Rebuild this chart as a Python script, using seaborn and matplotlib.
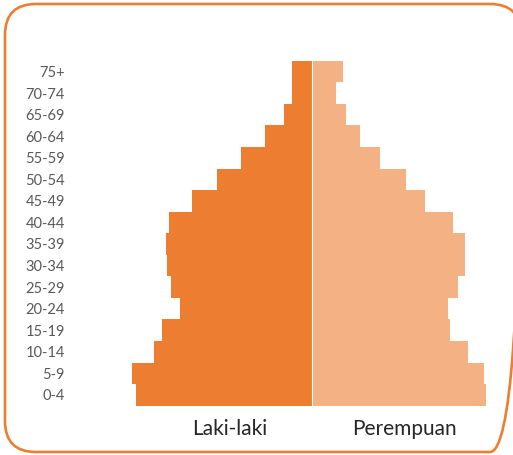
import matplotlib
matplotlib.use("Agg")
import matplotlib.pyplot as plt
from matplotlib.patches import FancyBboxPatch
import pandas as pd
import seaborn as sns

# data (arbitrary units)
kelompok_umur = ['0-4', '5-9', '10-14', '15-19', '20-24', '25-29', '30-34', '35-39',
                 '40-44', '45-49', '50-54', '55-59', '60-64', '65-69', '70-74', '75+']
laki_laki = [176, 180, 158, 150, 132, 141, 145, 146, 143, 120, 95, 71, 47, 28, 20, 20]
perempuan = [174, 172, 156, 138, 136, 146, 153, 153, 141, 113, 94, 68, 48, 34, 24, 31]

warna_laki = '#ED7D31'
warna_perempuan = '#F4B183'

df = pd.DataFrame({'umur': kelompok_umur, 'laki': laki_laki, 'perempuan': perempuan})
df['laki_neg'] = -df['laki']

sns.set_style('white')
plt.rcParams['font.family'] = ['Lato', 'DejaVu Sans']

W, H = 513, 455
fig = plt.figure(figsize=(W / 100, H / 100), dpi=100)

# lapisan bawah untuk bingkai oranye (koordinat piksel)
bg = fig.add_axes([0, 0, 1, 1])
bg.set_xlim(0, W)
bg.set_ylim(H, 0)
bg.axis('off')
bingkai = FancyBboxPatch((5, 4), 516, 448, boxstyle='round,pad=0,rounding_size=31',
                         fill=False, edgecolor=warna_laki, linewidth=1.9, clip_on=False)
bg.add_patch(bingkai)

ax = fig.add_axes([112 / W, (H - 405.7) / H, 400 / W, 345 / H])

sns.barplot(data=df, x='laki_neg', y='umur', order=kelompok_umur[::-1], orient='h',
            color=warna_laki, saturation=1, width=1.0, ax=ax, edgecolor='none')
sns.barplot(data=df, x='perempuan', y='umur', order=kelompok_umur[::-1], orient='h',
            color=warna_perempuan, saturation=1, width=1.0, ax=ax, edgecolor='none')

ax.axvline(0, color='white', linewidth=0.8)
ax.set_xlim(-200, 200)
ax.set_ylim(15.5, -0.5)
ax.set_xticks([])
ax.set_xlabel('')
ax.set_ylabel('')
ax.tick_params(axis='y', length=0, pad=34, labelsize=10.5, labelcolor='#595959')
sns.despine(ax=ax, left=True, bottom=True)
ax.patch.set_alpha(0)

fig.text(230 / W, 1 - 429 / H, 'Laki-laki', ha='center', va='center',
         fontsize=15, color='#262626')
fig.text(404 / W, 1 - 429 / H, 'Perempuan', ha='center', va='center',
         fontsize=15, color='#262626')

fig.savefig('out.png', dpi=100)
